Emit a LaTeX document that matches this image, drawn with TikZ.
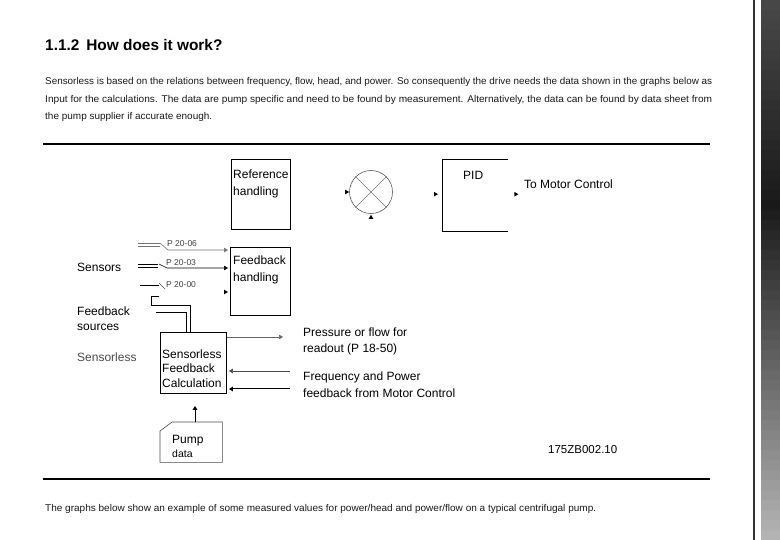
\documentclass[tikz,border=0pt]{standalone}
\usepackage{fontspec}
\setmainfont{Liberation Sans}
\usepackage{graphicx}
\usetikzlibrary{arrows.meta,calc}
\newcommand{\fitw}[2]{\resizebox{#1}{\height}{#2}}
\tikzset{
  rtri/.pic={\fill (-4,-2.3) -- (0,0) -- (-4,2.3) -- cycle;},
  utri/.pic={\fill (-2.3,4) -- (0,0) -- (2.3,4) -- cycle;},
}
\begin{document}
\begin{tikzpicture}[x=1pt,y=-1pt,
  lbl/.style={anchor=base west, inner sep=0pt, font=\fontsize{12}{14}\selectfont},
  swl/.style={anchor=base west, inner sep=0pt, font=\fontsize{8.5}{10}\selectfont, text=black!75},
  para/.style={anchor=base west, inner sep=0pt, font=\fontsize{9.8}{12}\selectfont, text=black!90},
  boxn/.style={draw, line width=0.9pt, anchor=north west, inner sep=0pt},
  conn/.style={line width=0.6pt},
  tipA/.style={-{Triangle[length=4pt,width=4.6pt]}},
]
\fill[white] (0,0) rectangle (780,540);
\useasboundingbox (0,0) rectangle (780,540);

% heading and paragraph
\node[anchor=base west, inner sep=0pt, font=\bfseries\fontsize{15.4}{18}\selectfont] (head) at (45,51) {1.1.2\hspace{0.45em}How does it work?};
\node[para] (p1) at (45,85) {\fitw{667pt}{Sensorless is based on the relations between frequency, flow, head, and power. So consequently the drive needs the data shown in the graphs below as}};
\node[para] (p2) at (45,103) {\fitw{667pt}{Input for the calculations. The data are pump specific and need to be found by measurement. Alternatively, the data can be found by data sheet from}};
\node[para] (p3) at (45,120) {\fitw{167pt}{the pump supplier if accurate enough.}};
\draw[line width=1.2pt] (43,144) -- (710,144);

% reference handling
\node[boxn, minimum width=59pt, minimum height=70pt] (ref) at (231,159) {};
\node[lbl] (refT1) at (233,179) {Reference};
\node[lbl] (refT2) at (233,196) {handling};

% summing junction
\node[circle, draw=black!65, line width=0.6pt, minimum size=43pt, inner sep=0pt] (sum) at (371,192) {};
\draw[black!55, line width=0.5pt] (sum.north west) -- (sum.south east) (sum.north east) -- (sum.south west);
\pic at (sum.west) {rtri};
\pic at ($(sum.south)+(0,1)$) {utri};

% PID
\node[anchor=north west, minimum width=66pt, minimum height=72pt, inner sep=0pt] (pid) at (442,159) {};
\draw[line width=0.9pt] (pid.north east) -- (pid.north west) -- (pid.south west) -- (pid.south east);
\node[lbl] (pidT) at (463,180) {PID};
\pic at ($(pid.west)+(-4,-1)$) {rtri};
\pic at ($(pid.east)+(10,-1)$) {rtri};
\node[lbl] (mc) at (524,189) {To Motor Control};

% feedback handling
\node[boxn, minimum width=60pt, minimum height=68pt] (fbh) at (230,247) {};
\node[lbl] (fbhT1) at (233,265) {Feedback};
\node[lbl] (fbhT2) at (233,282) {handling};

% sensor switches
\coordinate (k1) at (168,250);
\coordinate (k2) at (167,268);
\coordinate (k3) at (165,289);
\draw[conn, black!55] (138,243) -- (160,243) (138,246) -- (160,246);
\draw[conn, black!55, tipA, shorten >=2pt] (160,243) -- (k1) -- (k1 -| fbh.west);
\draw[conn] (138,264.5) -- (158,264.5) (138,267.5) -- (158,267.5);
\draw[conn, tipA, shorten >=2pt] (159,264) -- (k2) -- (k2 -| fbh.west);
\draw[conn] (140,285) -- (159,285);
\draw[conn, black!70] (159,283) -- (k3);
\pic at ($(fbh.west |- 0,292)+(-2,0)$) {rtri};
\node[swl] (sw1) at (167,247) {P 20-06};
\node[swl] (sw2) at (166,266) {P 20-03};
\node[swl] (sw3) at (166,288) {P 20-00};

% left labels
\node[lbl] (sens) at (77,272) {Sensors};
\node[lbl] (fs1) at (77,316) {Feedback};
\node[lbl] (fs2) at (77,331) {sources};
\node[lbl, text=black!70] (sl) at (77,362) {Sensorless};

% sensorless feedback calculation
\node[boxn, minimum width=66pt, minimum height=61pt] (sfc) at (160,332) {};
\node[lbl] (sfcT1) at (162,359) {Sensorless};
\node[lbl] (sfcT2) at (162,373) {Feedback};
\node[lbl] (sfcT3) at (162,388) {Calculation};

% feedback source lines
\draw[conn] (159,296) -- (151,296) -- (151,305) -- ($(sfc.north west)+(30,-27)$) -- ($(sfc.north west)+(30,0)$);
\draw[conn] (156,312) -- ($(sfc.north west)+(26,-20)$) -- ($(sfc.north west)+(26,0)$);

% outputs / inputs of calculation
\coordinate (po) at (283,337);
\draw[conn, black!60, tipA] (sfc.east |- po) -- (po);
\coordinate (fi1) at (290,371);
\coordinate (fi2) at (290,389);
\draw[conn, black!70, tipA, shorten >=2pt] (fi1) -- (fi1 -| sfc.east);
\draw[line width=1pt, tipA, shorten >=2pt] (fi2) -- (fi2 -| sfc.east);
\node[lbl] (ro1) at (303,337) {Pressure or flow for};
\node[lbl] (ro2) at (303,353) {readout (P 18-50)};
\node[lbl] (fp1) at (303,381) {Frequency and Power};
\node[lbl] (fp2) at (303,397) {feedback from Motor Control};

% pump data
\node[anchor=north west, minimum width=62pt, minimum height=40pt, inner sep=0pt] (pump) at (160,422) {};
\draw[line width=0.6pt, black!70] ($(pump.north west)+(0,9)$) -- ($(pump.north west)+(12,0)$) -- (pump.north east) -- (pump.south east) -- (pump.south west) -- cycle;
\draw[line width=1pt, tipA] ($(pump.north west)+(35,0)$) -- ($(sfc.south west)+(35,12)$);
\node[lbl] (pdT1) at (172,443) {Pump};
\node[anchor=base west, inner sep=0pt, font=\fontsize{10.5}{12}\selectfont] (pdT2) at (172,457) {data};

\node[anchor=base west, inner sep=0pt, font=\fontsize{11.5}{13}\selectfont] (code) at (548,453) {175ZB002.10};

% bottom
\draw[line width=1.2pt] (43,479) -- (710,479);
\node[para] (p4) at (45,511) {\fitw{551pt}{The graphs below show an example of some measured values for power/head and power/flow on a typical centrifugal pump.}};

% right edge strip
\draw[line width=2.5pt, black!80] (754,0) -- (754,540);
\foreach \i in {0,...,53} {
  \pgfmathsetmacro\yy{\i*10}
  \pgfmathsetmacro\cc{\yy<200 ? 72+0.09*\yy : 90-0.1824*(\yy-200)}
  \fill[black!\cc] (761,\yy) rectangle (780,\yy+10.6);
}
\end{tikzpicture}
\end{document}
